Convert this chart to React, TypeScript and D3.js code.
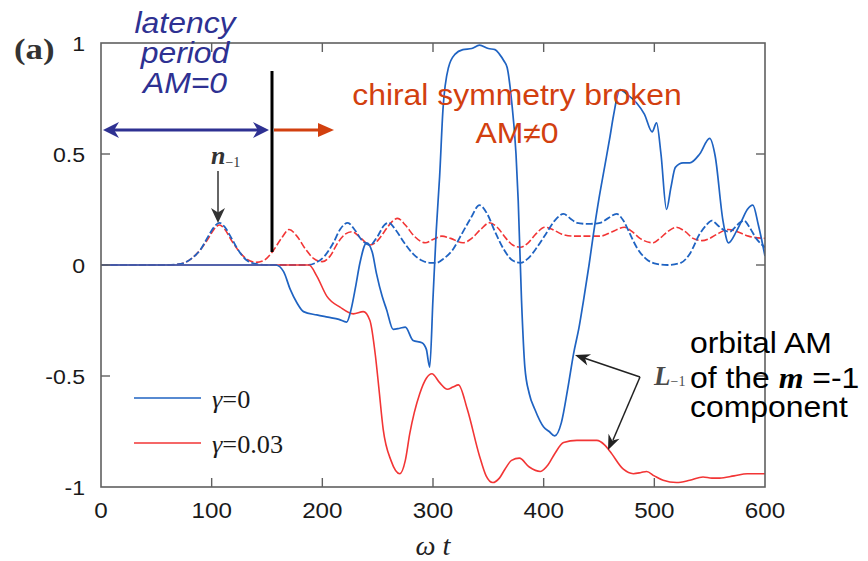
import React from "react";
import * as d3 from "d3";

// ---- data (ωt, value) ----
const X_TICKS = [0, 100, 200, 300, 400, 500, 600];
const Y_TICKS = [-1, -0.5, 0, 0.5, 1];
const Y_TICK_LABELS = ["-1", "-0.5", "0", "0.5", "1"];

// L_-1, γ=0 (blue solid)
const BLUE_L: [number, number][] = [
  [0, 0], [158, 0], [165, -0.03], [171, -0.11], [177, -0.17], [183, -0.21], [195, -0.225], [205, -0.235],
  [215, -0.245], [222, -0.257], [226, -0.2], [230, -0.1], [234, 0.01], [240, 0.1], [245, 0.06], [249, -0.04],
  [254, -0.14], [258, -0.2], [264, -0.29], [270, -0.285], [275, -0.28], [282, -0.34], [290, -0.35], [294, -0.38],
  [297, -0.46], [300, -0.15], [303, 0.16], [306, 0.4], [309, 0.7], [314, 0.89], [320, 0.95], [327, 0.97],
  [335, 0.975], [342, 0.99], [350, 0.975], [356, 0.97], [360, 0.95], [364, 0.92], [367, 0.89], [371, 0.74],
  [375, 0.5], [377, 0.29], [380, -0.16], [383, -0.46], [387, -0.58], [392, -0.65], [400, -0.73], [405, -0.75],
  [410, -0.77], [416, -0.71], [422, -0.55], [427, -0.4], [432, -0.28], [436, -0.16], [441, 0.0], [445, 0.14],
  [450, 0.3], [455, 0.44], [460, 0.58], [463, 0.67], [469, 0.79], [475, 0.77], [484, 0.73], [491, 0.68],
  [498, 0.6], [502, 0.64], [506, 0.5], [511, 0.25], [515, 0.35], [519, 0.44], [526, 0.46], [532, 0.46],
  [541, 0.5], [550, 0.57], [555, 0.49], [562, 0.2], [567, 0.1], [574, 0.15], [579, 0.2], [584, 0.25],
  [589, 0.27], [594, 0.18], [600, 0.04],
];

// L_-1, γ=0.03 (red solid)
const RED_L: [number, number][] = [
  [0, 0], [188, 0], [195, -0.05], [204, -0.14], [216, -0.19], [228, -0.22], [237, -0.21], [243, -0.25],
  [248, -0.41], [251, -0.55], [255, -0.74], [262, -0.88], [270, -0.94], [275, -0.88], [279, -0.76], [288, -0.58],
  [294, -0.51], [299, -0.49], [306, -0.53], [313, -0.56], [318, -0.55], [323, -0.54], [331, -0.65], [342, -0.86],
  [348, -0.95], [354, -0.98], [360, -0.96], [365, -0.92], [371, -0.88], [378, -0.87], [387, -0.91], [397, -0.93],
  [404, -0.9], [410, -0.85], [418, -0.8], [430, -0.79], [448, -0.79], [455, -0.81], [460, -0.84], [472, -0.92],
  [481, -0.94], [488, -0.935], [493, -0.93], [500, -0.95], [508, -0.97], [520, -0.98], [532, -0.97], [544, -0.955],
  [552, -0.96], [559, -0.96], [572, -0.95], [584, -0.94], [600, -0.94],
];

// n_-1, γ=0 (blue dashed)
const BLUE_N: [number, number][] = [
  [0, 0], [60, 0], [72, 0.005], [82, 0.03], [90, 0.07], [97, 0.13], [102, 0.17], [107, 0.19], [112, 0.17],
  [118, 0.12], [125, 0.06], [132, 0.02], [140, 0.005], [150, 0], [186, 0], [194, 0.01], [202, 0.04], [210, 0.1],
  [216, 0.16], [223, 0.19], [229, 0.16], [236, 0.11], [243, 0.09], [250, 0.13], [256, 0.18], [260, 0.19],
  [266, 0.16], [274, 0.1], [282, 0.05], [290, 0.02], [297, 0.01], [303, 0.01], [310, 0.03], [318, 0.07],
  [326, 0.14], [334, 0.21], [342, 0.27], [349, 0.23], [356, 0.15], [364, 0.07], [372, 0.02], [379, 0.01],
  [386, 0.03], [394, 0.08], [402, 0.14], [410, 0.2], [418, 0.23], [424, 0.21], [430, 0.19], [440, 0.185],
  [451, 0.19], [458, 0.21], [466, 0.23], [472, 0.2], [478, 0.14], [484, 0.08], [492, 0.03], [502, 0.005],
  [512, 0.0], [524, 0.01], [532, 0.05], [541, 0.14], [547, 0.18], [552, 0.2], [557, 0.18], [562, 0.16],
  [568, 0.15], [573, 0.17], [577, 0.19], [581, 0.2], [586, 0.17], [592, 0.12], [600, 0.08],
];

// n_-1, γ=0.03 (red dashed)
const RED_N: [number, number][] = [
  [0, 0], [60, 0], [72, 0.005], [82, 0.03], [90, 0.07], [97, 0.12], [102, 0.16], [107, 0.18], [112, 0.16],
  [118, 0.11], [125, 0.06], [132, 0.025], [140, 0.012], [147, 0.02], [155, 0.06], [163, 0.12], [170, 0.16],
  [177, 0.13], [185, 0.07], [192, 0.03], [200, 0.015], [207, 0.04], [214, 0.1], [221, 0.14], [227, 0.15],
  [235, 0.12], [243, 0.09], [250, 0.11], [256, 0.15], [262, 0.19], [268, 0.21], [275, 0.18], [283, 0.13],
  [293, 0.1], [300, 0.115], [308, 0.13], [316, 0.12], [327, 0.1], [335, 0.12], [343, 0.16], [351, 0.19],
  [358, 0.17], [366, 0.12], [372, 0.09], [379, 0.08], [386, 0.1], [393, 0.14], [401, 0.17], [408, 0.16],
  [416, 0.14], [427, 0.13], [440, 0.13], [451, 0.13], [462, 0.15], [473, 0.17], [480, 0.15], [487, 0.12],
  [499, 0.1], [505, 0.12], [512, 0.15], [520, 0.17], [528, 0.15], [535, 0.12], [543, 0.11], [550, 0.12],
  [557, 0.14], [567, 0.16], [575, 0.15], [585, 0.13], [600, 0.12],
];

const LEGEND = ["γ=0", "γ=0.03"];

// ---- styling / layout ----
const W = 868;
const H = 561;
const PL = 101, PR = 765, PT = 43, PB = 487;
const BLUE = "#1f63c2";
const RED = "#f23535";
const ANN_BLUE = "#2e3192";
const ANN_RED = "#d2400f";
const SANS = "'Liberation Sans', Arial, Helvetica, sans-serif";
const SERIF = "'Liberation Serif', 'Times New Roman', serif";
const SX = 1.1;

function ST(props: any) {
  const { x, y, sx = SX, children, ...rest } = props;
  return (
    <text transform={`translate(${x},${y}) scale(${sx},1)`} {...rest}>
      {children}
    </text>
  );
}

function ArrowHead({ from, to, len = 14, half = 6, fill = "#222" }: any) {
  const dx = to[0] - from[0];
  const dy = to[1] - from[1];
  const d = Math.hypot(dx, dy);
  const ux = dx / d, uy = dy / d;
  const px = -uy, py = ux;
  const bx = to[0] - ux * len, by = to[1] - uy * len;
  const nx = to[0] - ux * len * 0.7, ny = to[1] - uy * len * 0.7;
  const pts = [
    [to[0], to[1]],
    [bx + px * half, by + py * half],
    [nx, ny],
    [bx - px * half, by - py * half],
  ];
  return <polygon points={pts.map((p) => p.join(",")).join(" ")} fill={fill} />;
}

export default function App() {
  const x = d3.scaleLinear().domain([0, 600]).range([PL, PR]);
  const y = d3.scaleLinear().domain([-1, 1]).range([PB, PT]);
  const line = d3
    .line<[number, number]>()
    .x((d) => x(d[0]))
    .y((d) => y(d[1]))
    .curve(d3.curveMonotoneX);

  const tick = 9;
  const axisColor = "#606060";

  return (
    <svg
      width={W}
      height={H}
      style={{ position: "absolute", left: 0, top: 0, background: "#fff" }}
      xmlns="http://www.w3.org/2000/svg"
    >
      <rect x={0} y={0} width={W} height={H} fill="#fff" />
      <defs>
        <clipPath id="plotclip">
          <rect x={PL} y={PT - 2} width={PR - PL} height={PB - PT + 4} />
        </clipPath>
      </defs>

      {/* curves */}
      <g clipPath="url(#plotclip)" fill="none" strokeLinejoin="round">
        <path d={line(RED_N) || ""} stroke={RED} strokeWidth={1.6} strokeDasharray="7,2.5" />
        <path d={line(BLUE_N) || ""} stroke={BLUE} strokeWidth={1.8} strokeDasharray="7,2.5" />
        <path d={line(RED_L) || ""} stroke={RED} strokeWidth={1.6} />
        <path d={line(BLUE_L) || ""} stroke={BLUE} strokeWidth={1.7} />
      </g>

      {/* frame */}
      <rect x={PL} y={PT} width={PR - PL} height={PB - PT} fill="none" stroke={axisColor} strokeWidth={1.6} />

      {/* ticks */}
      {X_TICKS.map((t) => (
        <g key={"xt" + t}>
          {t > 0 && t < 600 && (
            <>
              <line x1={x(t)} x2={x(t)} y1={PB} y2={PB - tick} stroke={axisColor} strokeWidth={1.4} />
              <line x1={x(t)} x2={x(t)} y1={PT} y2={PT + tick} stroke={axisColor} strokeWidth={1.4} />
            </>
          )}
          <ST x={x(t)} y={PB + 31} textAnchor="middle" fontFamily={SANS} fontSize={22} fill="#1a1a1a">
            {String(t)}
          </ST>
        </g>
      ))}
      {Y_TICKS.map((v, i) => (
        <g key={"yt" + v}>
          {v > -1 && v < 1 && (
            <>
              <line x1={PL} x2={PL + tick} y1={y(v)} y2={y(v)} stroke={axisColor} strokeWidth={1.4} />
              <line x1={PR} x2={PR - tick} y1={y(v)} y2={y(v)} stroke={axisColor} strokeWidth={1.4} />
            </>
          )}
          <ST x={PL - 16} y={y(v) + 8} textAnchor="end" fontFamily={SANS} fontSize={21} fill="#1a1a1a">
            {Y_TICK_LABELS[i]}
          </ST>
        </g>
      ))}

      {/* axis title */}
      <ST x={433} y={555} sx={1.05} textAnchor="middle" fontFamily={SERIF} fontSize={27} fontStyle="italic" fill="#222">
        ω t
      </ST>

      {/* panel label */}
      <ST x={14} y={59} sx={1.2} fontFamily={SERIF} fontSize={29} fontWeight="bold" fill="#333">
        (a)
      </ST>

      {/* latency annotation */}
      <g fontFamily={SANS} fontSize={29} fontStyle="italic" fill={ANN_BLUE} textAnchor="middle">
        <ST x={185} y={33}>latency</ST>
        <ST x={185} y={63}>period</ST>
        <ST x={185} y={93}>AM=0</ST>
      </g>
      <line x1={112} x2={260} y1={130} y2={130} stroke={ANN_BLUE} strokeWidth={3.2} />
      <ArrowHead from={[200, 130]} to={[103, 130]} len={16} half={8} fill={ANN_BLUE} />
      <ArrowHead from={[150, 130]} to={[269, 130]} len={16} half={8} fill={ANN_BLUE} />

      {/* divider */}
      <line x1={272} x2={272} y1={71} y2={252} stroke="#000" strokeWidth={3} />

      {/* chiral annotation */}
      <line x1={274} x2={322} y1={130} y2={130} stroke={ANN_RED} strokeWidth={3.2} />
      <polygon points="334,130 318,123 318,137" fill={ANN_RED} />
      <g fontFamily={SANS} fontSize={29} fill={ANN_RED} textAnchor="middle">
        <ST x={517} y={105}>chiral symmetry broken</ST>
        <ST x={517} y={143}>AM≠0</ST>
      </g>

      {/* n_-1 label */}
      <text x={211} y={164} fontFamily={SERIF} fontSize={26} fontStyle="italic" fontWeight="bold" fill="#333">
        n
        <tspan fontSize={14} fontStyle="normal" fontWeight="normal" dy={3}>−1</tspan>
      </text>
      <line x1={218} x2={218} y1={171} y2={214} stroke="#333" strokeWidth={1.5} />
      <ArrowHead from={[218, 171]} to={[218, 223]} len={15} half={7} fill="#333" />

      {/* legend */}
      <line x1={134} x2={201} y1={398} y2={398} stroke={BLUE} strokeWidth={1.6} />
      <ST x={212} y={408} sx={1.05} fontFamily={SERIF} fontSize={25} fill="#1a1a1a">
        <tspan fontStyle="italic">γ</tspan>
        {LEGEND[0].slice(1)}
      </ST>
      <line x1={134} x2={201} y1={443} y2={443} stroke={RED} strokeWidth={1.6} />
      <ST x={212} y={453} sx={1.05} fontFamily={SERIF} fontSize={25} fill="#1a1a1a">
        <tspan fontStyle="italic">γ</tspan>
        {LEGEND[1].slice(1)}
      </ST>

      {/* L_-1 label + arrows */}
      <line x1={640} y1={377} x2={584} y2={358} stroke="#222" strokeWidth={1.5} />
      <ArrowHead from={[640, 377]} to={[575, 355]} len={15} half={6} fill="#222" />
      <line x1={640} y1={377} x2={613} y2={440} stroke="#222" strokeWidth={1.5} />
      <ArrowHead from={[640, 377]} to={[608, 450]} len={15} half={6} fill="#222" />
      <text x={654} y={385} fontFamily={SERIF} fontSize={27} fontStyle="italic" fontWeight="bold" fill="#4a4a4a">
        L
        <tspan fontSize={14} fontStyle="normal" fontWeight="normal" dy={1}>−1</tspan>
      </text>

      {/* orbital AM text */}
      <g fontFamily={SANS} fontSize={29} fill="#000">
        <ST x={690} y={353}>orbital AM</ST>
        <ST x={690} y={388}>
          of the{"  "}
          <tspan fontFamily={SERIF} fontStyle="italic" fontWeight="bold">m</tspan> =-1
        </ST>
        <ST x={690} y={417}>component</ST>
      </g>
    </svg>
  );
}
